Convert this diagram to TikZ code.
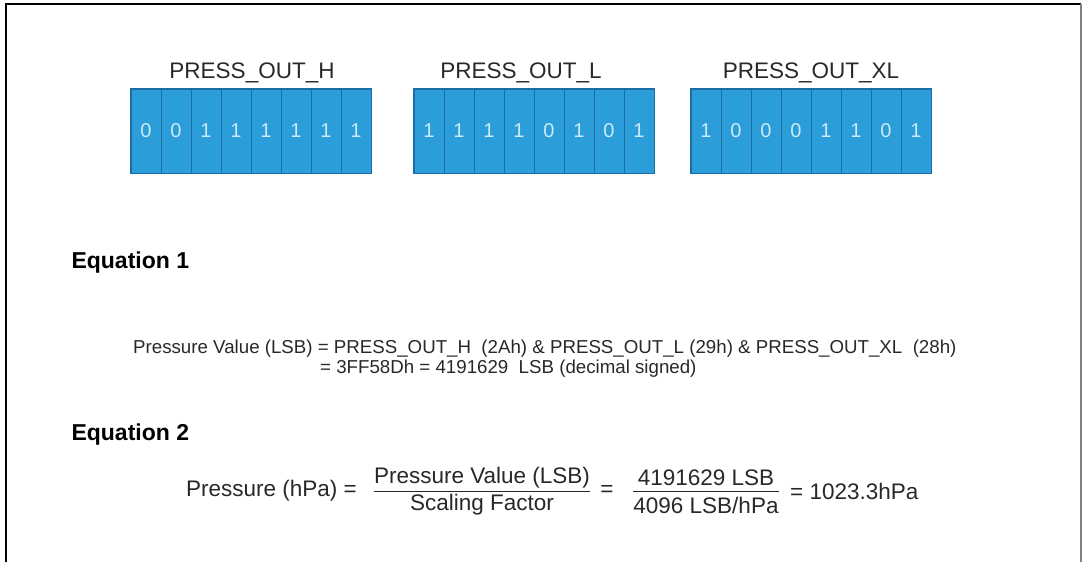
\documentclass[tikz,border=0pt]{standalone}
\usepackage{fontspec}
\setmainfont{Liberation Sans}
\usetikzlibrary{positioning}

\definecolor{bitfill}{RGB}{43,158,218}
\definecolor{bitedge}{RGB}{26,110,165}
\definecolor{bittext}{RGB}{205,234,248}
\definecolor{eqtext}{RGB}{40,40,40}

\begin{document}
\begin{tikzpicture}[x=1pt, y=-1pt,
	bit/.style = {draw=bitedge, fill=bitfill, text=bittext, line width=1pt,
		minimum width=30pt, minimum height=84pt, inner sep=0pt,
		font=\fontsize{20}{20}\selectfont},
	reg/.style = {font=\fontsize{22.5}{22.5}\selectfont, text=eqtext},
	head/.style = {anchor=west, font=\bfseries\fontsize{23}{23}\selectfont},
	eq/.style = {text=eqtext, inner sep=0pt, font=\fontsize{18.7}{18.7}\selectfont},
	frac/.style = {text=eqtext, inner sep=0pt, font=\fontsize{22.5}{22.5}\selectfont}]
\useasboundingbox (0,0) rectangle (1082,562);
% frame
\draw[line width=2pt] (6,562) -- (6,4) -- (1081,4);
\draw[gray, line width=1.5pt] (1081,4) -- (1081,562);

% registers
\foreach \b [count=\i] in {0,0,1,1,1,1,1,1}
	\node[bit] (h\i) at ({131+15+30*(\i-1)},131) {\b};
\foreach \b [count=\i] in {1,1,1,1,0,1,0,1}
	\node[bit] (l\i) at ({414+15+30*(\i-1)},131) {\b};
\foreach \b [count=\i] in {1,0,0,0,1,1,0,1}
	\node[bit] (x\i) at ({691+15+30*(\i-1)},131) {\b};
\draw[bitedge, line width=1.5pt] (h1.north west) rectangle (h8.south east);
\draw[bitedge, line width=1.5pt] (l1.north west) rectangle (l8.south east);
\draw[bitedge, line width=1.5pt] (x1.north west) rectangle (x8.south east);

\node[reg] (hname) at (252,73) {PRESS\_OUT\_H};
\node[reg] (lname) at (521,73) {PRESS\_OUT\_L};
\node[reg] (xname) at (811,73) {PRESS\_OUT\_XL};

% equation 1
\node[head] (eq1) at (68,263) {Equation 1};
\node[eq, anchor=west] (line1) at (133,349)
	{Pressure Value (LSB) = PRESS\_OUT\_H\ \ (2Ah) \& PRESS\_OUT\_L (29h) \& PRESS\_OUT\_XL\ \ (28h)};
\node[eq, anchor=west] (line2) at (320,369)
	{= 3FF58Dh = 4191629\ \ LSB (decimal signed)};

% equation 2
\node[head] (eq2) at (68,435) {Equation 2};
\node[frac, anchor=west] (press) at (186,491) {Pressure (hPa) =};
\node[frac] (num1) at (482,478) {Pressure Value (LSB)};
\node[frac] (den1) at (482,505) {Scaling Factor};
\node[frac] (eqs) at (607,491) {=};
\node[frac] (num2) at (706,478) {4191629 LSB};
\node[frac] (den2) at (706,505) {4096 LSB/hPa};
\node[frac, anchor=west] (result) at (790,491) {= 1023.3hPa};
\draw[eqtext, line width=1pt] (num1.west |- eqs) -- (num1.east |- eqs);
\draw[eqtext, line width=1pt] (den2.west |- eqs) -- (den2.east |- eqs);
\end{tikzpicture}
\end{document}
